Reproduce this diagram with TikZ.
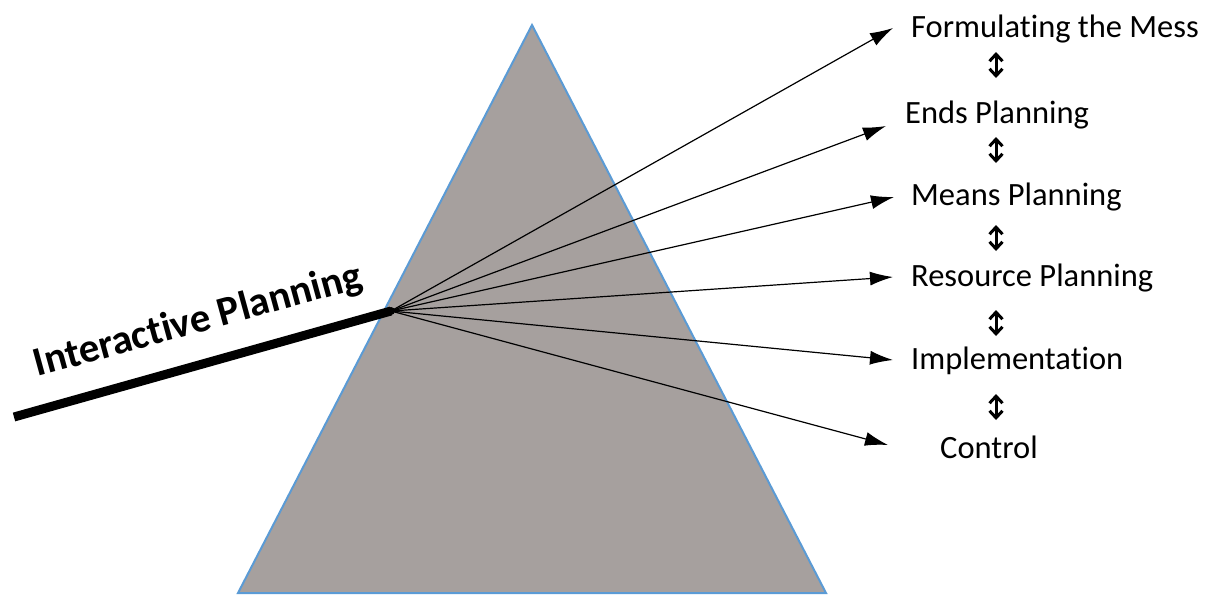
\documentclass[tikz,border=0pt]{standalone}
\usepackage{fontspec}
\setmainfont{Carlito}[Ligatures={NoCommon}]
\usetikzlibrary{arrows.meta}
\definecolor{prismfill}{HTML}{A6A09E}
\definecolor{prismedge}{HTML}{5B9BD5}
\begin{document}
\begin{tikzpicture}[x=1pt,y=-1pt,
  ray/.style={line width=1.2pt,-{Latex[length=23pt,width=14pt]}},
  label/.style={anchor=west,inner sep=0pt,font=\fontsize{32.5}{32.5}\selectfont},
  dbl/.style={line width=3pt,{Straight Barb[length=7pt,width=13pt]}-{Straight Barb[length=7pt,width=13pt]}}
]
\useasboundingbox (0,0) rectangle (1210,595);
% prism
\draw[fill=prismfill,draw=prismedge,line width=2pt,line join=miter]
  (532,25) coordinate (apex) -- (826,593) coordinate (br) -- (238,593) coordinate (bl) -- cycle;
% incoming beam
\coordinate (src) at (14,417);
\coordinate (o) at (391,311);
\draw[line width=9pt] (src) -- (o);
\fill (o) circle (4pt);
\node[anchor=base,rotate=15.3,inner sep=0pt,font=\bfseries\fontsize{41}{41}\selectfont] (ip) at (201,332) {Interactive Planning};
% labels
\node[label] (f) at (911,29) {Formulating the Mess};
\node[label] (e) at (905,115) {Ends Planning};
\node[label] (m) at (911,197) {Means Planning};
\node[label] (r) at (911,278) {Resource Planning};
\node[label] (i) at (911,361) {Implementation};
\node[label] (c) at (940,447) {Control};
% arrow tips
\coordinate (tf) at (893,28);
\coordinate (te) at (886,126);
\coordinate (tm) at (894,197);
\coordinate (tr) at (893,277);
\coordinate (ti) at (893,360);
\coordinate (tc) at (888,445);
\foreach \t in {tf,te,tm,tr,ti,tc} \draw[ray] (o) -- (\t);
% double arrows
\foreach \n/\y in {a/65,b/150,c/238,d/323,e/407}{
  \coordinate (\n1) at (996,\y-13);
  \coordinate (\n2) at (996,\y+13);
  \draw[dbl] (\n1) -- (\n2);
}
\end{tikzpicture}
\end{document}
